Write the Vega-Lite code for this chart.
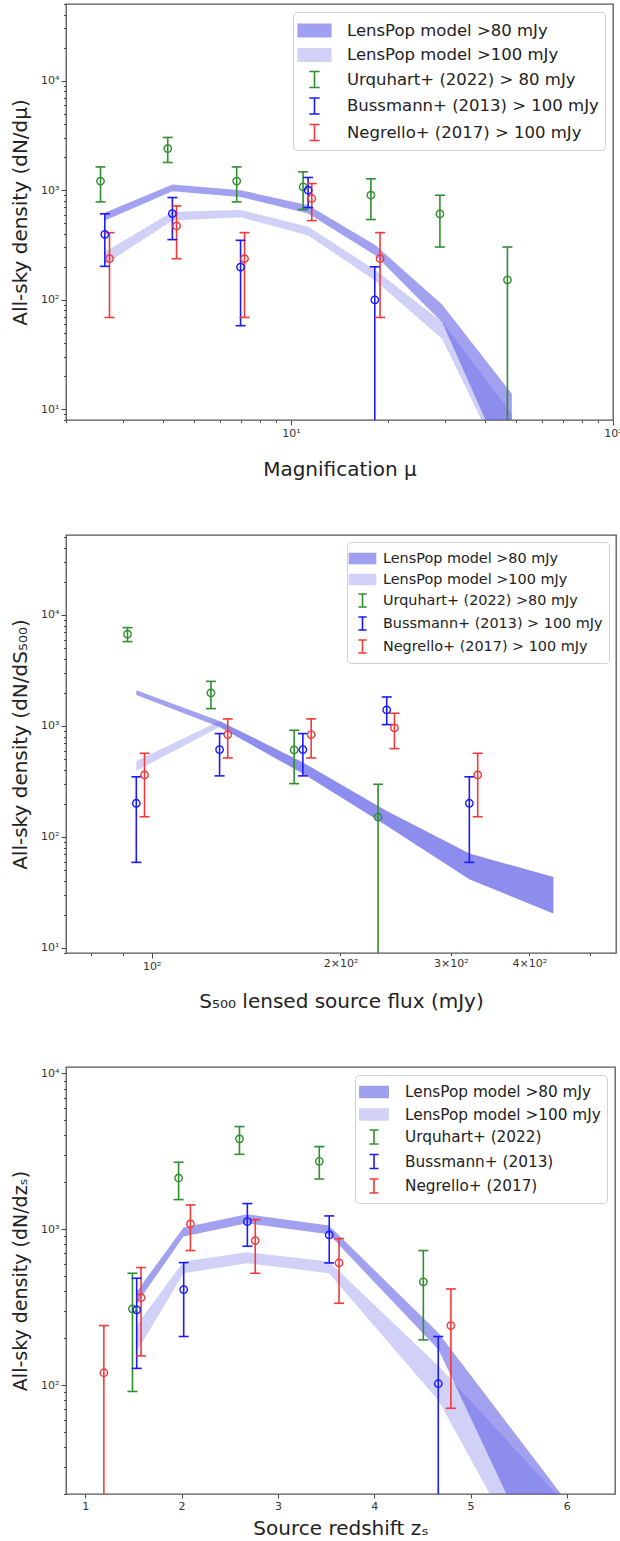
{
  "$schema": "https://vega.github.io/schema/vega-lite/v6.json",
  "background": "white",
  "padding": {"left": 9, "top": 2, "right": 0, "bottom": 0},
  "spacing": 54,
  "config": {
    "font": "DejaVu Sans",
    "view": {"stroke": "#555", "strokeWidth": 1.3},
    "axis": {"labelFont": "DejaVu Sans", "labelFontSize": 11, "labelColor": "#333", "tickColor": "#444", "domain": false, "grid": false, "titleFont": "DejaVu Sans", "titleFontSize": 20, "titleFontWeight": "normal", "titleColor": "#222", "labelPadding": 2, "labelOverlap": false, "labelFlush": false},
    "legend": {"labelFont": "DejaVu Sans", "labelColor": "#222", "fillColor": "white", "strokeColor": "#d0d0d0", "cornerRadius": 4, "symbolStrokeWidth": 1.6, "padding": 6, "labelLimit": 400}
  },
  "datasets": {
    "m1": [
      {"model": "a", "x": 2.65, "lo": 532, "hi": 625},
      {"model": "a", "x": 4.28, "lo": 980, "hi": 1127},
      {"model": "a", "x": 6.97, "lo": 869, "hi": 1000},
      {"model": "a", "x": 11.3, "lo": 612, "hi": 730},
      {"model": "a", "x": 18.3, "lo": 254, "hi": 314},
      {"model": "a", "x": 29.5, "lo": 62, "hi": 90},
      {"model": "a", "x": 48.5, "lo": 2.3, "hi": 13.9},
      {"model": "b", "x": 2.65, "lo": 213, "hi": 273},
      {"model": "b", "x": 4.28, "lo": 532, "hi": 634},
      {"model": "b", "x": 6.97, "lo": 570, "hi": 656},
      {"model": "b", "x": 11.3, "lo": 388, "hi": 462},
      {"model": "b", "x": 18.3, "lo": 150, "hi": 185},
      {"model": "b", "x": 29.5, "lo": 44, "hi": 62},
      {"model": "b", "x": 48.5, "lo": 2.2, "hi": 9}
    ],
    "o1": [
      {"series": "Urquhart+ (2022) > 80 mJy", "x": 2.56, "y": 1210, "lo": 782, "hi": 1630},
      {"series": "Urquhart+ (2022) > 80 mJy", "x": 4.14, "y": 2400, "lo": 1790, "hi": 3030},
      {"series": "Urquhart+ (2022) > 80 mJy", "x": 6.78, "y": 1210, "lo": 782, "hi": 1630},
      {"series": "Urquhart+ (2022) > 80 mJy", "x": 10.9, "y": 1073, "lo": 666, "hi": 1470},
      {"series": "Urquhart+ (2022) > 80 mJy", "x": 17.7, "y": 900, "lo": 540, "hi": 1270},
      {"series": "Urquhart+ (2022) > 80 mJy", "x": 29.0, "y": 608, "lo": 303, "hi": 900},
      {"series": "Urquhart+ (2022) > 80 mJy", "x": 47.0, "y": 152, "lo": 1, "hi": 303},
      {"series": "Bussmann+ (2013) > 100 mJy", "x": 2.64, "y": 396, "lo": 202, "hi": 608},
      {"series": "Bussmann+ (2013) > 100 mJy", "x": 4.28, "y": 612, "lo": 354, "hi": 857},
      {"series": "Bussmann+ (2013) > 100 mJy", "x": 6.97, "y": 199, "lo": 58, "hi": 349},
      {"series": "Bussmann+ (2013) > 100 mJy", "x": 11.3, "y": 1000, "lo": 694, "hi": 1306},
      {"series": "Bussmann+ (2013) > 100 mJy", "x": 18.2, "y": 100, "lo": 1, "hi": 200},
      {"series": "Negrello+ (2017) > 100 mJy", "x": 2.73, "y": 237, "lo": 69, "hi": 410},
      {"series": "Negrello+ (2017) > 100 mJy", "x": 4.41, "y": 472, "lo": 237, "hi": 719},
      {"series": "Negrello+ (2017) > 100 mJy", "x": 7.17, "y": 237, "lo": 69, "hi": 410},
      {"series": "Negrello+ (2017) > 100 mJy", "x": 11.6, "y": 840, "lo": 528, "hi": 1150},
      {"series": "Negrello+ (2017) > 100 mJy", "x": 18.9, "y": 237, "lo": 69, "hi": 410}
    ],
    "m2": [
      {"model": "a", "x": 94.5, "lo": 1900, "hi": 2096},
      {"model": "a", "x": 128.3, "lo": 980, "hi": 1110},
      {"model": "a", "x": 174.2, "lo": 372, "hi": 468},
      {"model": "a", "x": 237, "lo": 126, "hi": 171},
      {"model": "a", "x": 321, "lo": 41.6, "hi": 70.8},
      {"model": "a", "x": 437, "lo": 20.4, "hi": 43.6},
      {"model": "b", "x": 94.5, "lo": 394, "hi": 484},
      {"model": "b", "x": 128.3, "lo": 980, "hi": 1110},
      {"model": "b", "x": 174.2, "lo": 372, "hi": 468},
      {"model": "b", "x": 237, "lo": 126, "hi": 171},
      {"model": "b", "x": 321, "lo": 41.6, "hi": 70.8},
      {"model": "b", "x": 437, "lo": 20.4, "hi": 43.6}
    ],
    "o2": [
      {"series": "Urquhart+ (2022) >80 mJy", "x": 91.5, "y": 6700, "lo": 5750, "hi": 7690},
      {"series": "Urquhart+ (2022) >80 mJy", "x": 124.3, "y": 1983, "lo": 1432, "hi": 2520},
      {"series": "Urquhart+ (2022) >80 mJy", "x": 168.7, "y": 608, "lo": 302, "hi": 914},
      {"series": "Urquhart+ (2022) >80 mJy", "x": 229.6, "y": 151, "lo": 1, "hi": 298},
      {"series": "Bussmann+ (2013) > 100 mJy", "x": 94.5, "y": 201, "lo": 59, "hi": 348},
      {"series": "Bussmann+ (2013) > 100 mJy", "x": 128.3, "y": 612, "lo": 355, "hi": 853},
      {"series": "Bussmann+ (2013) > 100 mJy", "x": 174.2, "y": 612, "lo": 355, "hi": 853},
      {"series": "Bussmann+ (2013) > 100 mJy", "x": 237, "y": 1394, "lo": 1028, "hi": 1823},
      {"series": "Bussmann+ (2013) > 100 mJy", "x": 321, "y": 201, "lo": 59, "hi": 348},
      {"series": "Negrello+ (2017) > 100 mJy", "x": 97.4, "y": 362, "lo": 152, "hi": 567},
      {"series": "Negrello+ (2017) > 100 mJy", "x": 132.2, "y": 835, "lo": 515, "hi": 1157},
      {"series": "Negrello+ (2017) > 100 mJy", "x": 179.6, "y": 835, "lo": 515, "hi": 1157},
      {"series": "Negrello+ (2017) > 100 mJy", "x": 243.8, "y": 959, "lo": 625, "hi": 1301},
      {"series": "Negrello+ (2017) > 100 mJy", "x": 331, "y": 362, "lo": 152, "hi": 567}
    ],
    "m3": [
      {"model": "a", "x": 1.53, "lo": 330, "hi": 395},
      {"model": "a", "x": 2.02, "lo": 897, "hi": 1025},
      {"model": "a", "x": 2.68, "lo": 1093, "hi": 1248},
      {"model": "a", "x": 3.53, "lo": 929, "hi": 1056},
      {"model": "a", "x": 4.67, "lo": 168, "hi": 215},
      {"model": "a", "x": 6.15, "lo": 1.9, "hi": 13.5},
      {"model": "b", "x": 1.53, "lo": 162, "hi": 240},
      {"model": "b", "x": 2.02, "lo": 522, "hi": 621},
      {"model": "b", "x": 2.68, "lo": 605, "hi": 712},
      {"model": "b", "x": 3.53, "lo": 522, "hi": 621},
      {"model": "b", "x": 4.67, "lo": 79, "hi": 132},
      {"model": "b", "x": 6.15, "lo": 1.7, "hi": 13.4}
    ],
    "o3": [
      {"series": "Urquhart+ (2022)", "x": 1.49, "y": 308, "lo": 91, "hi": 522},
      {"series": "Urquhart+ (2022)", "x": 1.969, "y": 2133, "lo": 1550, "hi": 2692},
      {"series": "Urquhart+ (2022)", "x": 2.601, "y": 3800, "lo": 3027, "hi": 4560},
      {"series": "Urquhart+ (2022)", "x": 3.43, "y": 2730, "lo": 2104, "hi": 3390},
      {"series": "Urquhart+ (2022)", "x": 4.51, "y": 460, "lo": 195, "hi": 730},
      {"series": "Bussmann+ (2013)", "x": 1.534, "y": 304, "lo": 128, "hi": 485},
      {"series": "Bussmann+ (2013)", "x": 2.022, "y": 410, "lo": 205, "hi": 611},
      {"series": "Bussmann+ (2013)", "x": 2.683, "y": 1120, "lo": 778, "hi": 1462},
      {"series": "Bussmann+ (2013)", "x": 3.533, "y": 920, "lo": 608, "hi": 1218},
      {"series": "Bussmann+ (2013)", "x": 4.665, "y": 102, "lo": 1, "hi": 205},
      {"series": "Negrello+ (2017)", "x": 1.193, "y": 120, "lo": 1, "hi": 241},
      {"series": "Negrello+ (2017)", "x": 1.579, "y": 364, "lo": 154, "hi": 568},
      {"series": "Negrello+ (2017)", "x": 2.092, "y": 1082, "lo": 730, "hi": 1433},
      {"series": "Negrello+ (2017)", "x": 2.765, "y": 846, "lo": 522, "hi": 1154},
      {"series": "Negrello+ (2017)", "x": 3.635, "y": 608, "lo": 335, "hi": 871},
      {"series": "Negrello+ (2017)", "x": 4.796, "y": 241, "lo": 71, "hi": 414}
    ]
  },
  "vconcat": [
    {
      "width": 547,
      "height": 416,
      "layer": [
        {
          "data": {"name": "o1"},
          "transform": [{"filter": "false"}],
          "mark": {"type": "point", "filled": false, "opacity": 1, "strokeWidth": 1.6},
          "encoding": {
            "x": {"field": "x", "type": "quantitative"}, "y": {"field": "y", "type": "quantitative"},
            "color": {"field": "series", "type": "nominal",
              "scale": {"domain": ["LensPop model >80 mJy", "LensPop model >100 mJy", "Urquhart+ (2022) > 80 mJy", "Bussmann+ (2013) > 100 mJy", "Negrello+ (2017) > 100 mJy"],
                "range": ["#a0a0f0", "#d2d2f8", "#2f8f2f", "#1a1aff", "#f23a3a"]},
              "legend": {"title": null, "orient": "top-right", "offset": 8, "labelFontSize": 16.5, "symbolSize": 520, "symbolOffset": 3, "labelOffset": 20, "rowPadding": 2.5, "symbolOpacity": 1}},
            "shape": {"field": "series", "type": "nominal",
              "scale": {"domain": ["LensPop model >80 mJy", "LensPop model >100 mJy", "Urquhart+ (2022) > 80 mJy", "Bussmann+ (2013) > 100 mJy", "Negrello+ (2017) > 100 mJy"],
                "range": ["M-1.5,-0.55H1.5M-1.5,-0.45H1.5M-1.5,-0.35H1.5M-1.5,-0.25H1.5M-1.5,-0.15H1.5M-1.5,-0.05H1.5M-1.5,0.05H1.5M-1.5,0.15H1.5M-1.5,0.25H1.5M-1.5,0.35H1.5M-1.5,0.45H1.5M-1.5,0.55H1.5",
                  "M-1.5,-0.55H1.5M-1.5,-0.45H1.5M-1.5,-0.35H1.5M-1.5,-0.25H1.5M-1.5,-0.15H1.5M-1.5,-0.05H1.5M-1.5,0.05H1.5M-1.5,0.15H1.5M-1.5,0.25H1.5M-1.5,0.35H1.5M-1.5,0.45H1.5M-1.5,0.55H1.5",
                  "M-0.45,-0.7H0.45M0,-0.7V0.7M-0.45,0.7H0.45", "M-0.45,-0.7H0.45M0,-0.7V0.7M-0.45,0.7H0.45", "M-0.45,-0.7H0.45M0,-0.7V0.7M-0.45,0.7H0.45"]}}
          }
        },
        {
          "data": {"name": "m1"},
          "transform": [{"filter": "datum.model == 'a'"}],
          "mark": {"type": "area", "fill": "#5a5ae5", "opacity": 0.57, "clip": true},
          "encoding": {
            "x": {"field": "x", "type": "quantitative", "scale": {"type": "log", "domain": [2, 100], "nice": false},
              "axis": {"title": "Magnification μ", "titlePadding": 21, "values": [2,3,4,5,6,7,8,9,10,20,30,40,50,60,70,80,90,100],
                "labelExpr": "datum.value == 10 ? '10¹' : datum.value == 100 ? '10²' : ''",
                "labelFontSize": {"condition": {"test": "datum.value == 10 || datum.value == 100", "value": 11}, "value": 0},
                "tickSize": {"condition": {"test": "datum.value == 10 || datum.value == 100", "value": 5}, "value": 2.5}}},
            "y": {"field": "lo", "type": "quantitative", "scale": {"type": "log", "domain": [8, 50000], "nice": false},
              "axis": {"title": "All-sky density (dN/dμ)", "titlePadding": 10, "values": [8,9,10,20,30,40,50,60,70,80,90,100,200,300,400,500,600,700,800,900,1000,2000,3000,4000,5000,6000,7000,8000,9000,10000,20000,30000,40000,50000],
                "labelExpr": "datum.value == 10 ? '10¹' : datum.value == 100 ? '10²' : datum.value == 1000 ? '10³' : datum.value == 10000 ? '10⁴' : ''",
                "labelFontSize": {"condition": {"test": "datum.value == 10 || datum.value == 100 || datum.value == 1000 || datum.value == 10000", "value": 11}, "value": 0},
                "tickSize": {"condition": {"test": "datum.value == 10 || datum.value == 100 || datum.value == 1000 || datum.value == 10000", "value": 5}, "value": 2.5}}},
            "y2": {"field": "hi"}
          }
        },
        {
          "data": {"name": "m1"},
          "transform": [{"filter": "datum.model == 'b'"}],
          "mark": {"type": "area", "fill": "#5a5ae5", "fillOpacity": 0.28, "stroke": "#5a5ae5", "strokeOpacity": 0.1, "strokeWidth": 1.5, "strokeDash": [3, 2], "clip": true},
          "encoding": {"x": {"field": "x", "type": "quantitative"}, "y": {"field": "lo", "type": "quantitative"}, "y2": {"field": "hi"}}
        },
        {
          "data": {"name": "o1"},
          "mark": {"type": "rule", "strokeWidth": 1.6, "clip": true},
          "encoding": {"x": {"field": "x", "type": "quantitative"}, "y": {"field": "lo", "type": "quantitative"}, "y2": {"field": "hi"},
            "color": {"field": "series", "type": "nominal", "legend": null}}
        },
        {
          "data": {"name": "o1"},
          "mark": {"type": "tick", "orient": "horizontal", "size": 10, "thickness": 1.6, "opacity": 1, "clip": true},
          "encoding": {"x": {"field": "x", "type": "quantitative"}, "y": {"field": "lo", "type": "quantitative"},
            "color": {"field": "series", "type": "nominal", "legend": null}}
        },
        {
          "data": {"name": "o1"},
          "mark": {"type": "tick", "orient": "horizontal", "size": 10, "thickness": 1.6, "opacity": 1, "clip": true},
          "encoding": {"x": {"field": "x", "type": "quantitative"}, "y": {"field": "hi", "type": "quantitative"},
            "color": {"field": "series", "type": "nominal", "legend": null}}
        },
        {
          "data": {"name": "o1"},
          "mark": {"type": "point", "shape": "circle", "filled": false, "size": 55, "strokeWidth": 1.4, "opacity": 1, "clip": true},
          "encoding": {"x": {"field": "x", "type": "quantitative"}, "y": {"field": "y", "type": "quantitative"},
            "color": {"field": "series", "type": "nominal", "legend": null}}
        }
      ]
    },
    {
      "width": 550,
      "height": 418,
      "layer": [
        {
          "data": {"name": "o2"},
          "transform": [{"filter": "false"}],
          "mark": {"type": "point", "filled": false, "opacity": 1, "strokeWidth": 1.6},
          "encoding": {
            "x": {"field": "x", "type": "quantitative"}, "y": {"field": "y", "type": "quantitative"},
            "color": {"field": "series", "type": "nominal",
              "scale": {"domain": ["LensPop model >80 mJy", "LensPop model >100 mJy", "Urquhart+ (2022) >80 mJy", "Bussmann+ (2013) > 100 mJy", "Negrello+ (2017) > 100 mJy"],
                "range": ["#a0a0f0", "#d2d2f8", "#2f8f2f", "#1a1aff", "#f23a3a"]},
              "legend": {"title": null, "orient": "top-right", "offset": 7, "labelFontSize": 14.4, "symbolSize": 340, "symbolOffset": -1, "labelOffset": 10, "rowPadding": 2, "symbolOpacity": 1}},
            "shape": {"field": "series", "type": "nominal",
              "scale": {"domain": ["LensPop model >80 mJy", "LensPop model >100 mJy", "Urquhart+ (2022) >80 mJy", "Bussmann+ (2013) > 100 mJy", "Negrello+ (2017) > 100 mJy"],
                "range": ["M-1.5,-0.55H1.5M-1.5,-0.45H1.5M-1.5,-0.35H1.5M-1.5,-0.25H1.5M-1.5,-0.15H1.5M-1.5,-0.05H1.5M-1.5,0.05H1.5M-1.5,0.15H1.5M-1.5,0.25H1.5M-1.5,0.35H1.5M-1.5,0.45H1.5M-1.5,0.55H1.5",
                  "M-1.5,-0.55H1.5M-1.5,-0.45H1.5M-1.5,-0.35H1.5M-1.5,-0.25H1.5M-1.5,-0.15H1.5M-1.5,-0.05H1.5M-1.5,0.05H1.5M-1.5,0.15H1.5M-1.5,0.25H1.5M-1.5,0.35H1.5M-1.5,0.45H1.5M-1.5,0.55H1.5",
                  "M-0.45,-0.7H0.45M0,-0.7V0.7M-0.45,0.7H0.45", "M-0.45,-0.7H0.45M0,-0.7V0.7M-0.45,0.7H0.45", "M-0.45,-0.7H0.45M0,-0.7V0.7M-0.45,0.7H0.45"]}}
          }
        },
        {
          "data": {"name": "m2"},
          "transform": [{"filter": "datum.model == 'a'"}],
          "mark": {"type": "area", "fill": "#5a5ae5", "opacity": 0.57, "clip": true},
          "encoding": {
            "x": {"field": "x", "type": "quantitative", "scale": {"type": "log", "domain": [73, 550], "nice": false},
              "axis": {"title": "S₅₀₀ lensed source flux (mJy)", "titlePadding": 20, "values": [80, 90, 100, 200, 300, 400, 500],
                "labelExpr": "datum.value == 100 ? '10²' : datum.value == 200 ? '2×10²' : datum.value == 300 ? '3×10²' : datum.value == 400 ? '4×10²' : ''",
                "labelFontSize": {"condition": {"test": "datum.value >= 100 && datum.value <= 400", "value": 11}, "value": 0},
                "tickSize": {"condition": {"test": "datum.value == 100", "value": 5}, "value": 2.5}}},
            "y": {"field": "lo", "type": "quantitative", "scale": {"type": "log", "domain": [9, 52500], "nice": false},
              "axis": {"title": "All-sky density (dN/dS₅₀₀)", "titlePadding": 10, "values": [9,10,20,30,40,50,60,70,80,90,100,200,300,400,500,600,700,800,900,1000,2000,3000,4000,5000,6000,7000,8000,9000,10000,20000,30000,40000,50000],
                "labelExpr": "datum.value == 10 ? '10¹' : datum.value == 100 ? '10²' : datum.value == 1000 ? '10³' : datum.value == 10000 ? '10⁴' : ''",
                "labelFontSize": {"condition": {"test": "datum.value == 10 || datum.value == 100 || datum.value == 1000 || datum.value == 10000", "value": 11}, "value": 0},
                "tickSize": {"condition": {"test": "datum.value == 10 || datum.value == 100 || datum.value == 1000 || datum.value == 10000", "value": 5}, "value": 2.5}}},
            "y2": {"field": "hi"}
          }
        },
        {
          "data": {"name": "m2"},
          "transform": [{"filter": "datum.model == 'b'"}],
          "mark": {"type": "area", "fill": "#5a5ae5", "opacity": 0.28, "clip": true},
          "encoding": {"x": {"field": "x", "type": "quantitative"}, "y": {"field": "lo", "type": "quantitative"}, "y2": {"field": "hi"}}
        },
        {
          "data": {"name": "o2"},
          "mark": {"type": "rule", "strokeWidth": 1.6, "clip": true},
          "encoding": {"x": {"field": "x", "type": "quantitative"}, "y": {"field": "lo", "type": "quantitative"}, "y2": {"field": "hi"},
            "color": {"field": "series", "type": "nominal", "legend": null}}
        },
        {
          "data": {"name": "o2"},
          "mark": {"type": "tick", "orient": "horizontal", "size": 10, "thickness": 1.6, "opacity": 1, "clip": true},
          "encoding": {"x": {"field": "x", "type": "quantitative"}, "y": {"field": "lo", "type": "quantitative"},
            "color": {"field": "series", "type": "nominal", "legend": null}}
        },
        {
          "data": {"name": "o2"},
          "mark": {"type": "tick", "orient": "horizontal", "size": 10, "thickness": 1.6, "opacity": 1, "clip": true},
          "encoding": {"x": {"field": "x", "type": "quantitative"}, "y": {"field": "hi", "type": "quantitative"},
            "color": {"field": "series", "type": "nominal", "legend": null}}
        },
        {
          "data": {"name": "o2"},
          "mark": {"type": "point", "shape": "circle", "filled": false, "size": 55, "strokeWidth": 1.4, "opacity": 1, "clip": true},
          "encoding": {"x": {"field": "x", "type": "quantitative"}, "y": {"field": "y", "type": "quantitative"},
            "color": {"field": "series", "type": "nominal", "legend": null}}
        }
      ]
    },
    {
      "width": 549,
      "height": 427,
      "layer": [
        {
          "data": {"name": "o3"},
          "transform": [{"filter": "false"}],
          "mark": {"type": "point", "filled": false, "opacity": 1, "strokeWidth": 1.6},
          "encoding": {
            "x": {"field": "x", "type": "quantitative"}, "y": {"field": "y", "type": "quantitative"},
            "color": {"field": "series", "type": "nominal",
              "scale": {"domain": ["LensPop model >80 mJy", "LensPop model >100 mJy", "Urquhart+ (2022)", "Bussmann+ (2013)", "Negrello+ (2017)"],
                "range": ["#a0a0f0", "#d2d2f8", "#2f8f2f", "#1a1aff", "#f23a3a"]},
              "legend": {"title": null, "orient": "top-right", "offset": 8, "labelFontSize": 15.3, "symbolSize": 400, "symbolOffset": 2, "labelOffset": 20, "rowPadding": 2.5, "symbolOpacity": 1}},
            "shape": {"field": "series", "type": "nominal",
              "scale": {"domain": ["LensPop model >80 mJy", "LensPop model >100 mJy", "Urquhart+ (2022)", "Bussmann+ (2013)", "Negrello+ (2017)"],
                "range": ["M-1.5,-0.55H1.5M-1.5,-0.45H1.5M-1.5,-0.35H1.5M-1.5,-0.25H1.5M-1.5,-0.15H1.5M-1.5,-0.05H1.5M-1.5,0.05H1.5M-1.5,0.15H1.5M-1.5,0.25H1.5M-1.5,0.35H1.5M-1.5,0.45H1.5M-1.5,0.55H1.5",
                  "M-1.5,-0.55H1.5M-1.5,-0.45H1.5M-1.5,-0.35H1.5M-1.5,-0.25H1.5M-1.5,-0.15H1.5M-1.5,-0.05H1.5M-1.5,0.05H1.5M-1.5,0.15H1.5M-1.5,0.25H1.5M-1.5,0.35H1.5M-1.5,0.45H1.5M-1.5,0.55H1.5",
                  "M-0.45,-0.7H0.45M0,-0.7V0.7M-0.45,0.7H0.45", "M-0.45,-0.7H0.45M0,-0.7V0.7M-0.45,0.7H0.45", "M-0.45,-0.7H0.45M0,-0.7V0.7M-0.45,0.7H0.45"]}}
          }
        },
        {
          "data": {"name": "m3"},
          "transform": [{"filter": "datum.model == 'a'"}],
          "mark": {"type": "area", "fill": "#5a5ae5", "opacity": 0.57, "clip": true},
          "encoding": {
            "x": {"field": "x", "type": "quantitative", "scale": {"domain": [0.8, 6.5], "nice": false, "zero": false},
              "axis": {"title": "Source redshift zₛ", "titlePadding": 7, "values": [1, 2, 3, 4, 5, 6], "format": "d", "tickSize": 4}},
            "y": {"field": "lo", "type": "quantitative", "scale": {"type": "log", "domain": [20, 11000], "nice": false},
              "axis": {"title": "All-sky density (dN/dzₛ)", "titleFontSize": 19, "titlePadding": 10, "values": [20,30,40,50,60,70,80,90,100,200,300,400,500,600,700,800,900,1000,2000,3000,4000,5000,6000,7000,8000,9000,10000],
                "labelExpr": "datum.value == 100 ? '10²' : datum.value == 1000 ? '10³' : datum.value == 10000 ? '10⁴' : ''",
                "labelFontSize": {"condition": {"test": "datum.value == 100 || datum.value == 1000 || datum.value == 10000", "value": 11}, "value": 0},
                "tickSize": {"condition": {"test": "datum.value == 100 || datum.value == 1000 || datum.value == 10000", "value": 5}, "value": 2.5}}},
            "y2": {"field": "hi"}
          }
        },
        {
          "data": {"name": "m3"},
          "transform": [{"filter": "datum.model == 'b'"}],
          "mark": {"type": "area", "fill": "#5a5ae5", "opacity": 0.28, "clip": true},
          "encoding": {"x": {"field": "x", "type": "quantitative"}, "y": {"field": "lo", "type": "quantitative"}, "y2": {"field": "hi"}}
        },
        {
          "data": {"name": "o3"},
          "mark": {"type": "rule", "strokeWidth": 1.6, "clip": true},
          "encoding": {"x": {"field": "x", "type": "quantitative"}, "y": {"field": "lo", "type": "quantitative"}, "y2": {"field": "hi"},
            "color": {"field": "series", "type": "nominal", "legend": null}}
        },
        {
          "data": {"name": "o3"},
          "mark": {"type": "tick", "orient": "horizontal", "size": 10, "thickness": 1.6, "opacity": 1, "clip": true},
          "encoding": {"x": {"field": "x", "type": "quantitative"}, "y": {"field": "lo", "type": "quantitative"},
            "color": {"field": "series", "type": "nominal", "legend": null}}
        },
        {
          "data": {"name": "o3"},
          "mark": {"type": "tick", "orient": "horizontal", "size": 10, "thickness": 1.6, "opacity": 1, "clip": true},
          "encoding": {"x": {"field": "x", "type": "quantitative"}, "y": {"field": "hi", "type": "quantitative"},
            "color": {"field": "series", "type": "nominal", "legend": null}}
        },
        {
          "data": {"name": "o3"},
          "mark": {"type": "point", "shape": "circle", "filled": false, "size": 55, "strokeWidth": 1.4, "opacity": 1, "clip": true},
          "encoding": {"x": {"field": "x", "type": "quantitative"}, "y": {"field": "y", "type": "quantitative"},
            "color": {"field": "series", "type": "nominal", "legend": null}}
        }
      ]
    }
  ],
  "resolve": {"scale": {"x": "independent", "y": "independent", "color": "independent", "shape": "independent"}, "axis": {"x": "independent", "y": "independent"}, "legend": {"color": "independent", "shape": "independent"}}
}
